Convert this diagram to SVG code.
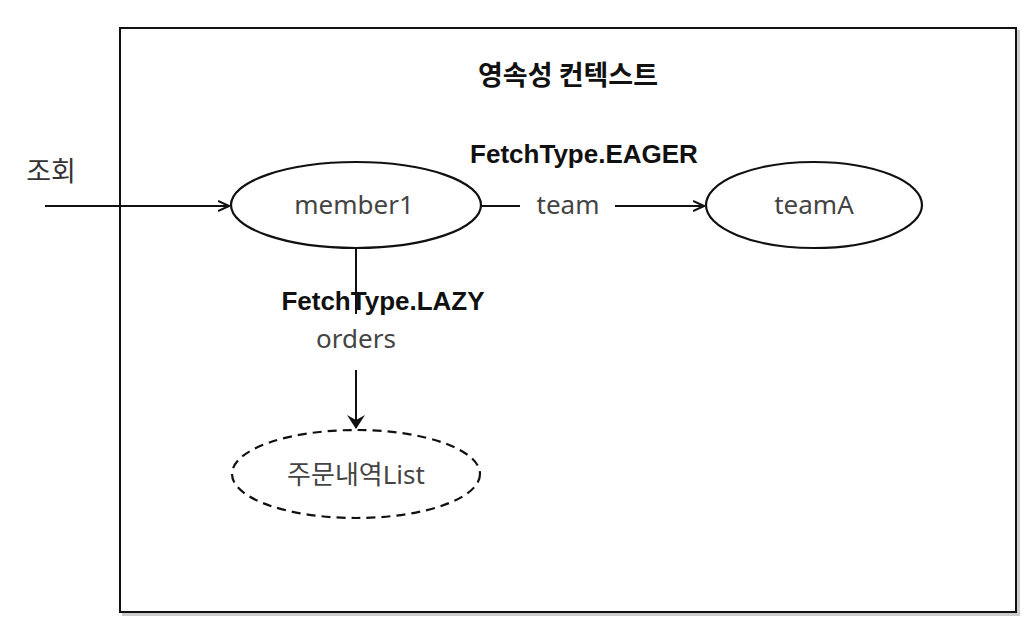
<svg xmlns="http://www.w3.org/2000/svg" width="1029" height="622" viewBox="0 0 1029 622">
<style>
.node{fill:#fff;stroke:#111;stroke-width:2.2}
.dash{stroke-dasharray:9 6}
.lbl{font-family:"Noto Sans","Noto Sans CJK KR",sans-serif;font-size:26px;fill:#444;text-anchor:middle}
.bold{font-family:"Liberation Sans","Noto Sans CJK KR",sans-serif;font-size:26px;font-weight:bold;fill:#111;text-anchor:middle}
.edge{stroke:#111;stroke-width:2;fill:none}
</style>
<defs>
<marker id="open" viewBox="0 0 12 12" refX="11" refY="6" markerWidth="12" markerHeight="12" markerUnits="userSpaceOnUse" orient="auto">
<path d="M0,1 L11,6 L0,11" fill="none" stroke="#111" stroke-width="2"/>
</marker>
<marker id="solid" viewBox="0 0 14 20" refX="13" refY="10" markerWidth="14" markerHeight="20" markerUnits="userSpaceOnUse" orient="auto">
<path d="M0,1 L14,10 L0,19 L5,10 Z" fill="#111"/>
</marker>
</defs>
<rect width="1029" height="622" fill="#fff"/>
<g id="context">
<rect x="122" y="30" width="898" height="586" fill="#ccc"/>
<rect x="120" y="28" width="896" height="584" fill="#fff" stroke="#111" stroke-width="2"/>
<text x="568" y="85" font-family="'Noto Sans CJK KR',sans-serif" font-size="27" font-weight="bold" fill="#111" text-anchor="middle">영속성 컨텍스트</text>
</g>
<g id="connectors">
<line class="edge" x1="45" y1="206" x2="229" y2="206" marker-end="url(#open)"/>
<line class="edge" x1="481" y1="206" x2="520" y2="206"/>
<line class="edge" x1="615" y1="206" x2="704" y2="206" marker-end="url(#open)"/>
<line class="edge" x1="356" y1="249" x2="356" y2="314"/>
<line class="edge" x1="356" y1="370" x2="356" y2="428" marker-end="url(#solid)"/>
<text x="51" y="181" font-family="'Noto Sans CJK KR',sans-serif" font-size="27" fill="#333" text-anchor="middle">조회</text>
<text class="bold" x="584" y="163">FetchType.EAGER</text>
<text class="lbl" x="568" y="214">team</text>
<text class="bold" x="383" y="310">FetchType.LAZY</text>
<text class="lbl" x="356" y="348">orders</text>
</g>
<g id="member1">
<ellipse class="node" cx="356" cy="205" rx="125" ry="43"/>
<text class="lbl" x="354" y="214">member1</text>
</g>
<g id="teamA">
<ellipse class="node" cx="814" cy="205" rx="108" ry="43"/>
<text class="lbl" x="814" y="214">teamA</text>
</g>
<g id="orderList">
<ellipse class="node dash" cx="356" cy="474" rx="124" ry="44"/>
<text class="lbl" x="356" y="484">주문내역List</text>
</g>
</svg>
